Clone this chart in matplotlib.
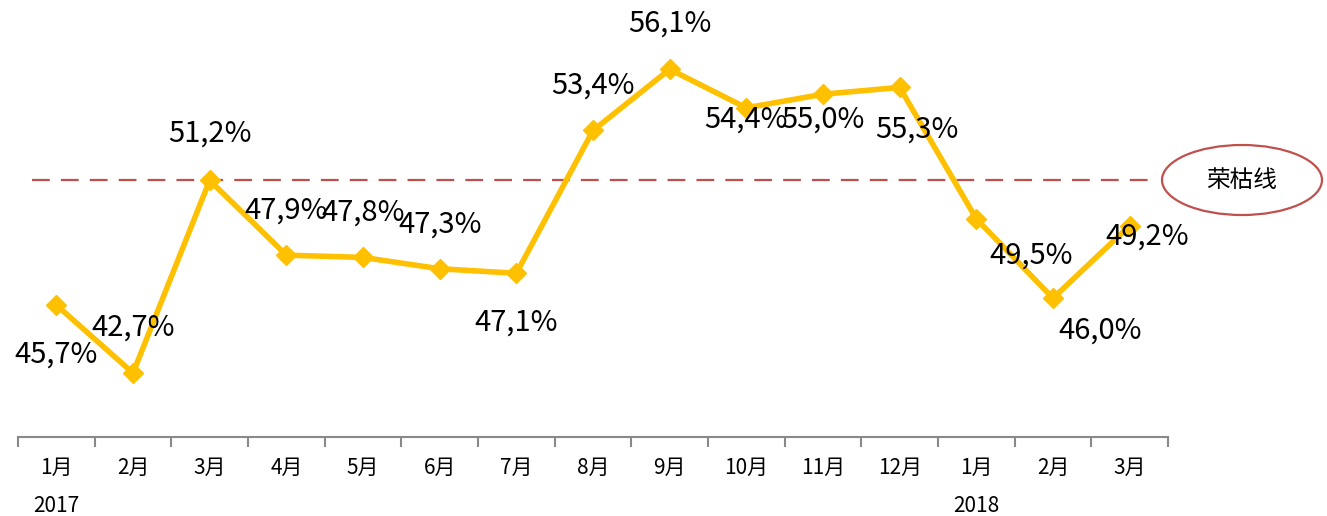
import matplotlib.pyplot as plt
from matplotlib.patches import Ellipse
import numpy as np

plt.rcParams['font.family'] = ['Noto Sans CJK SC', 'DejaVu Sans']

months = ['1月', '2月', '3月', '4月', '5月', '6月', '7月', '8月', '9月',
          '10月', '11月', '12月', '1月', '2月', '3月']
years = {0: '2017', 12: '2018'}
values = [45.7, 42.7, 51.2, 47.9, 47.8, 47.3, 47.1, 53.4, 56.1,
          54.4, 55.0, 55.3, 49.5, 46.0, 49.2]
line_value = 51.2  # 荣枯线

# label offsets in pixels (dx, dy)
offsets = [(0, -50), (0, 45), (0, 47), (0, 45), (0, 45), (0, 44), (0, -49),
           (0, 45), (0, 46), (0, -12), (0, -25), (17, -42), (55, -37),
           (47, -32), (18, -11)]

fig = plt.figure(figsize=(13.27, 5.16), dpi=100)
ax = fig.add_axes([18 / 1327, 79 / 516, 1150 / 1327, 437 / 516])

x = np.arange(len(values))
ax.plot(x, values, color='#FFC000', lw=4, marker='D', markersize=10,
        markeredgecolor='#FFC000', zorder=3, solid_joinstyle='miter')

ax.axhline(line_value, xmin=0.012, xmax=0.984, color='#C0504D', lw=1.6,
           dashes=(8, 5), zorder=2)

for xi, v, (dx, dy) in zip(x, values, offsets):
    ax.annotate(f'{v:.1f}%'.replace('.', ','), (xi, v), xytext=(dx, dy),
                textcoords='offset pixels', ha='center', va='center',
                fontsize=21, color='black', zorder=4)

ax.set_xlim(-0.5, len(values) - 0.5)
ax.set_ylim(39.877, 59.157)

for s in ['top', 'right', 'left']:
    ax.spines[s].set_visible(False)
ax.spines['bottom'].set_color('#898989')
ax.spines['bottom'].set_linewidth(1.5)
ax.set_yticks([])

ax.set_xticks(np.arange(-0.5, len(values)), labels=[''] * (len(values) + 1))
ax.tick_params(axis='x', which='major', length=7, width=1.5, color='#898989',
               direction='out')
ax.set_xticks(x, labels=months, minor=True)
ax.tick_params(axis='x', which='minor', length=0, pad=14, labelsize=15)

trans = ax.get_xaxis_transform()
for i, yr in years.items():
    ax.text(i, -0.158, yr, transform=trans, ha='center', va='center',
            fontsize=15, clip_on=False)

# 荣枯线 legend ellipse
ell = Ellipse((1242 / 1327, 1 - 180 / 516), 160 / 1327, 70 / 516,
              transform=fig.transFigure, facecolor='white',
              edgecolor='#C0504D', lw=1.6)
fig.patches.append(ell)
fig.text(1242 / 1327, 1 - 180 / 516, '荣枯线', ha='center', va='center',
         fontsize=17)

fig.savefig('out.png', dpi=100)
